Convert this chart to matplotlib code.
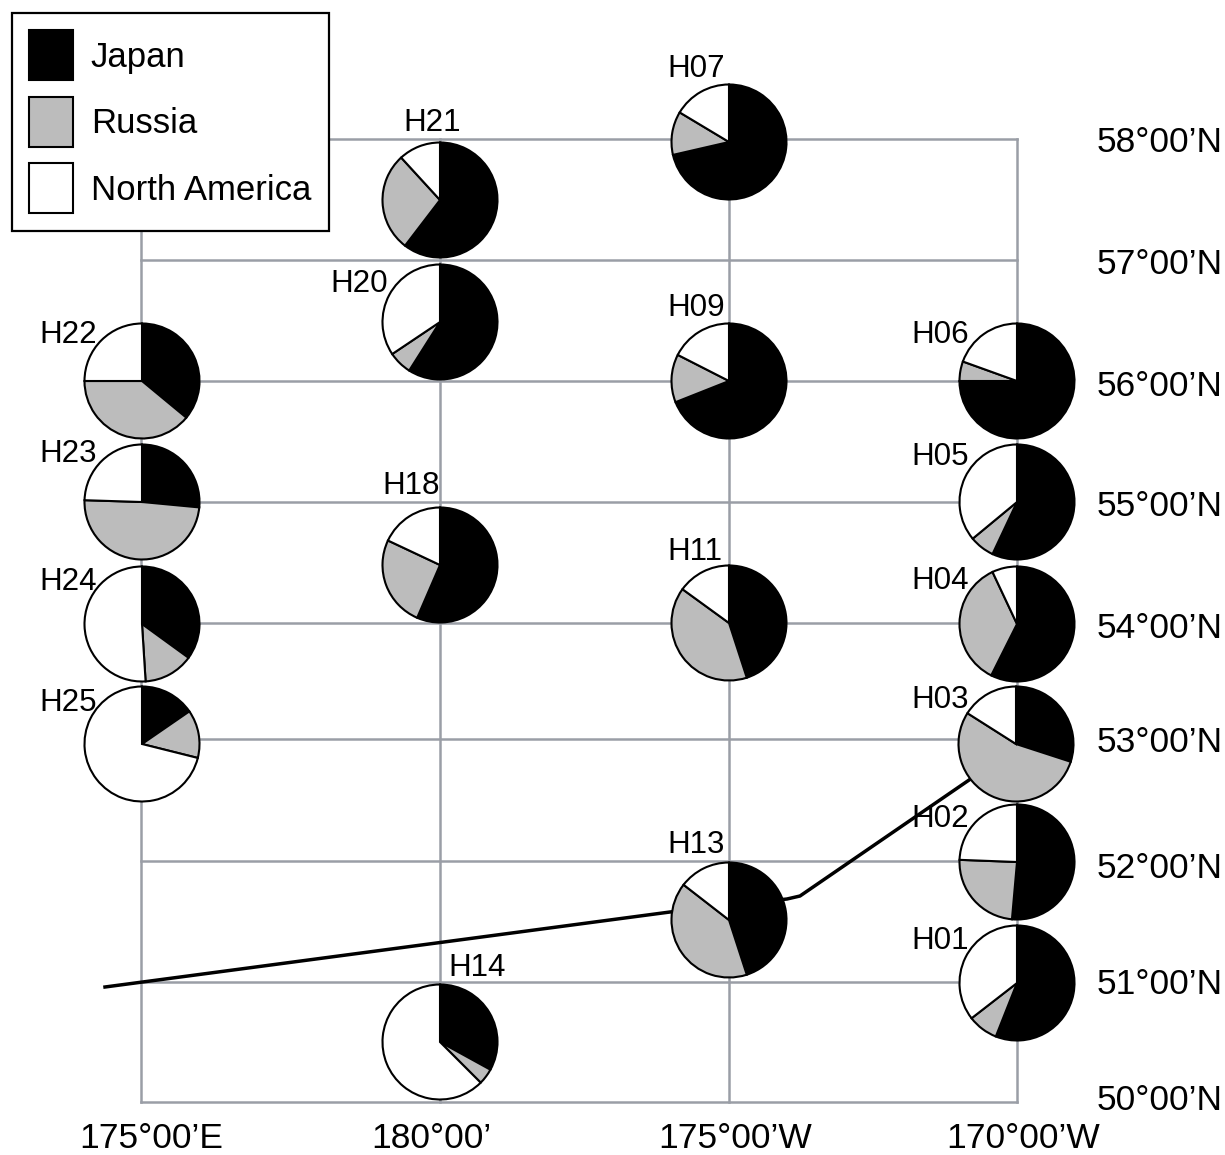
import matplotlib
matplotlib.use('Agg')
import matplotlib.pyplot as plt
from matplotlib.patches import Patch

plt.rcParams['font.family'] = ['Liberation Sans', 'DejaVu Sans']

# shares, clockwise from north
regions = ['Japan', 'Russia', 'North America']
stations = ['H07', 'H21', 'H20', 'H09', 'H22', 'H06', 'H23', 'H05', 'H18',
            'H24', 'H11', 'H04', 'H25', 'H03', 'H02', 'H13', 'H01', 'H14']
japan = [71.4, 60.4, 59, 69, 36, 75, 26.5, 57, 56.5, 35, 45, 57.4, 15.4, 30, 51.4, 45, 56, 33]
russia = [12.2, 27.8, 6.6, 13.5, 39, 5.5, 49, 7, 25.5, 14, 40, 35.6, 13.5, 54, 24.2, 40.5, 8.5, 4.5]
namerica = [16.4, 11.8, 34.4, 17.5, 25, 19.5, 24.5, 36, 18, 51, 15, 7, 71.1, 16, 24.4, 14.5, 35.5, 62.5]

lon_labels = ["175°00’E", "180°00’", "175°00’W", "170°00’W"]
lat_labels = ["58°00’N", "57°00’N", "56°00’N", "55°00’N", "54°00’N",
              "53°00’N", "52°00’N", "51°00’N", "50°00’N"]

# layout, in image pixels
colors = ['black', '#bcbcbc', 'white']
grid_x = [141, 440, 729, 1017]
grid_y = [139, 260, 381, 502, 623, 739, 861, 982, 1102]
lon_text_x = [151, 431, 735, 1023]
lat_text_y = [143, 265, 386, 507, 628, 743, 868, 985, 1100]
centers = {'H07': (729, 142), 'H21': (440, 200), 'H20': (440, 322), 'H09': (729, 381),
           'H22': (142, 381), 'H06': (1017, 381), 'H23': (142, 502), 'H05': (1017, 502),
           'H18': (440, 565), 'H24': (142, 624), 'H11': (729, 623), 'H04': (1017, 624),
           'H25': (142, 744), 'H03': (1016, 744), 'H02': (1017, 862), 'H13': (729, 920),
           'H01': (1017, 983), 'H14': (440, 1042)}
label_pos = {'H07': (667, 69), 'H21': (403, 123), 'H20': (330, 284), 'H09': (667, 308),
             'H22': (39, 335), 'H06': (911, 335), 'H23': (39, 454), 'H05': (911, 457),
             'H18': (382, 486), 'H24': (39, 582), 'H11': (667, 552), 'H04': (911, 581),
             'H25': (39, 703), 'H03': (911, 700), 'H02': (911, 819), 'H13': (667, 845),
             'H01': (911, 941), 'H14': (448, 968)}
track_x = [105, 670, 787, 800, 972]
track_y = [987, 912, 899, 896, 778]

H = 1155
fig = plt.figure(figsize=(12.25, 11.55), dpi=100)
ax = fig.add_axes([0, 0, 1, 1])

# grid
for x in grid_x:
    ax.plot([x, x], [H - 139, H - 1102], color='#9a9ea6', lw=1.8, zorder=1)
for y in grid_y:
    ax.plot([141, 1017], [H - y, H - y], color='#9a9ea6', lw=1.8, zorder=1)

ax.plot(track_x, [H - y for y in track_y], color='black', lw=2.5, zorder=2)

for i, st in enumerate(stations):
    cx, cy = centers[st]
    ax.pie([japan[i], russia[i], namerica[i]], colors=colors, startangle=90,
           counterclock=False, radius=57.5, center=(cx, H - cy), frame=True,
           wedgeprops={'edgecolor': 'black', 'linewidth': 1.5, 'zorder': 3})
    lx, ly = label_pos[st]
    ax.text(lx, H - ly, st, fontsize=22.6, ha='left', va='center', zorder=4)

for x, lab in zip(lon_text_x, lon_labels):
    ax.text(x, H - 1138, lab, fontsize=25.5, ha='center', va='center')
for y, lab in zip(lat_text_y, lat_labels):
    ax.text(1097, H - y, lab, fontsize=25.5, ha='left', va='center')

handles = [Patch(facecolor=c, edgecolor='black', linewidth=1.5) for c in colors]
leg = ax.legend(handles, regions, loc='upper left', bbox_to_anchor=(12, H - 13),
                bbox_transform=ax.transData, fontsize=25, fancybox=False,
                framealpha=1, edgecolor='black', borderpad=0.5, borderaxespad=0,
                handlelength=1.27, handleheight=1.84, labelspacing=0.475,
                handletextpad=0.5)
leg.get_frame().set_linewidth(1.6)
leg.set_zorder(5)

ax.set_xlim(0, 1225)
ax.set_ylim(0, H)
ax.set_aspect('equal')
ax.axis('off')

fig.savefig('out.png', dpi=100)
